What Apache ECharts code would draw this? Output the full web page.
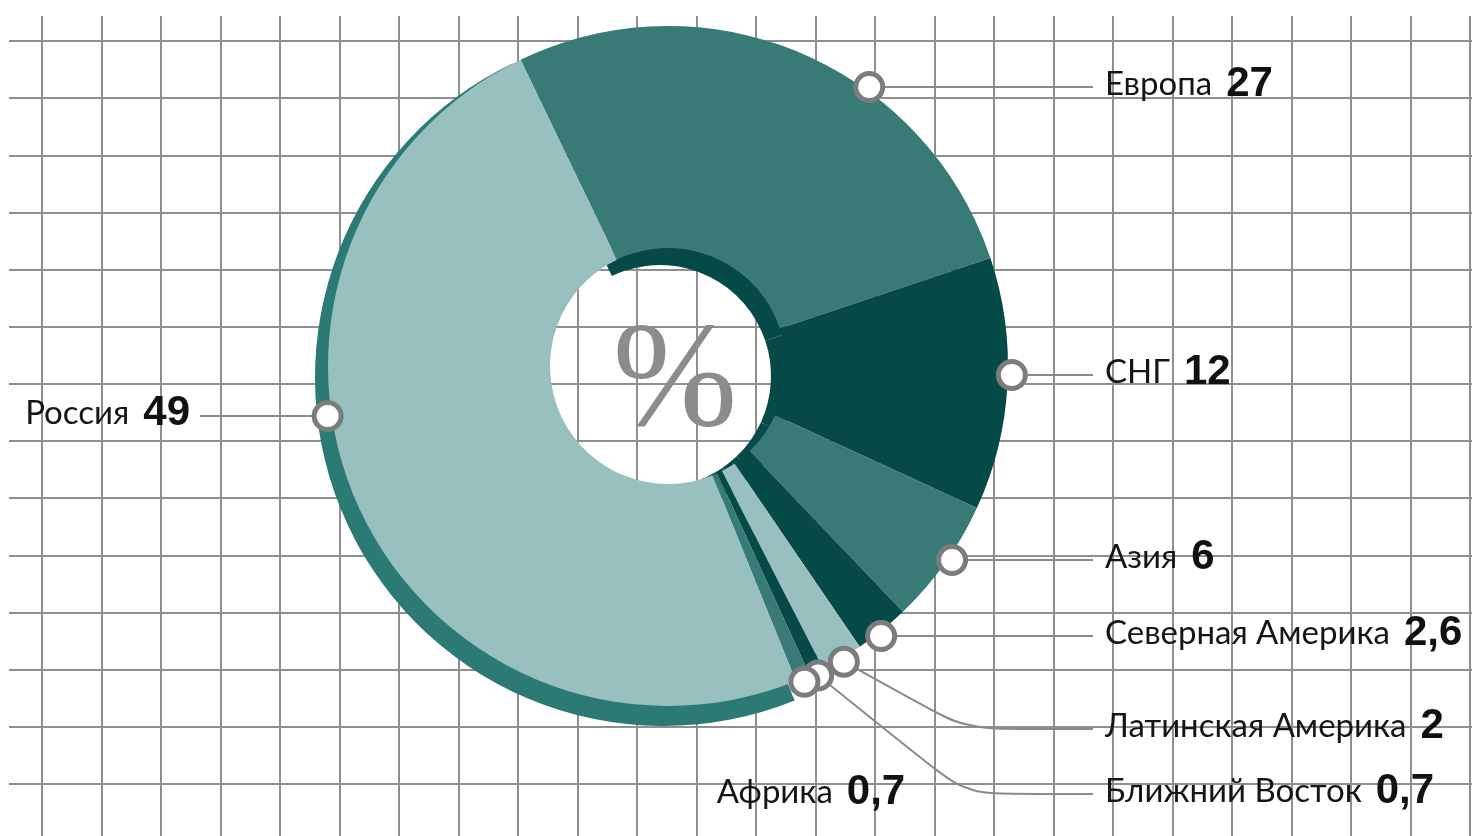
<!DOCTYPE html>
<html>
<head>
<meta charset="utf-8">
<title>Доли по регионам</title>
<script src="https://cdn.jsdelivr.net/npm/echarts@6/dist/echarts.min.js"></script>
<style>
  html, body { margin: 0; padding: 0; background: #fff; }
  #chart { width: 1472px; height: 836px; }
</style>
</head>
<body>
<div id="chart"></div>
<script>
// data
const regions = ['Европа', 'СНГ', 'Азия', 'Северная Америка', 'Латинская Америка', 'Ближний Восток', 'Африка', 'Россия']
const shares = [27, 12, 6, 2.6, 2, 0.7, 0.7, 49]
const centerText = '%'

// background paper: cells across / down
const gridCols = 24
const gridRows = 13

// colours
const light = '#98c0bf', mid = '#387a76', dark = '#064a48', rim = '#2b7a74'
const sliceColors = [mid, dark, mid, dark, light, dark, mid, light]
const lineGray = '#8a8a8a'
const clear = 'rgba(0,0,0,0)'

// geometry of the donut
const CX = 668, CY = 366, R_IN = 118, R_OUT = 340, MARK_R = 344
const START = 115.7 // echarts angle where Европа begins

// label placement: [x, line y, align]
const labelSpots = [
  [1105, 87, 'left'], [1105, 375, 'left'], [1105, 560, 'left'], [1105, 636, 'left'],
  [1105, 729, 'left'], [1105, 794, 'left'], [811, 795, 'center'], [190, 416, 'right']
]

// pick the narrowest installed sans for the names and size it to the printed width
const ctx = document.createElement('canvas').getContext('2d')
const probe = 'Северная Америка'
const measure = font => { ctx.font = font; return ctx.measureText(probe).width }
const baseW = measure('100px monospace')
let best = null
;['Liberation Sans Narrow', 'DejaVu Sans Condensed', 'Roboto', 'Lato'].forEach(f => {
  const w = measure(`100px '${f}', monospace`)
  if (Math.abs(w - baseW) > 0.5 && (!best || w < best.w)) best = { f, w }
})
const nameFont = best ? best.f : 'Roboto'
const nameSize = Math.round(283 / (best ? best.w : 874) * 100)

const total = shares.reduce((a, b) => a + b, 0)
const startDeg = 90 - START // clockwise from 12 o'clock

// marker sits where the horizontal leader meets the rim, else on the slice middle
let acc = 0
const markerVals = shares.map((v, i) => {
  const from = acc, to = acc + v
  acc = to
  const [, ly, align] = labelSpots[i]
  const dy = ly - CY
  if (Math.abs(dy) < MARK_R) {
    const dx = Math.sqrt(MARK_R * MARK_R - dy * dy) * (align === 'right' ? -1 : 1)
    let deg = Math.atan2(dx, -dy) * 180 / Math.PI - startDeg
    deg = ((deg % 360) + 360) % 360
    const val = deg / 360 * total
    if (val >= from && val <= to) return { val, straight: true }
  }
  return { val: (from + to) / 2, straight: false }
})

const markerPoint = val => {
  const t = (startDeg + val / total * 360) * Math.PI / 180
  return [CX + MARK_R * Math.sin(t), CY - MARK_R * Math.cos(t)]
}

const fmt = v => String(v).replace('.', ',')

const chart = echarts.init(document.getElementById('chart'))

chart.setOption({
  animation: false,
  title: {
    text: centerText,
    left: 670,
    top: 306,
    textAlign: 'center',
    textStyle: { fontFamily: 'Liberation Serif', fontSize: 150, fontWeight: 'normal', color: '#8c8c8c' }
  },
  grid: [
    { left: 42, top: 16, width: 59.5 * gridCols, bottom: 0 },
    { left: 9, right: 0, top: 41, height: 57.15 * gridRows }
  ],
  xAxis: [
    {
      gridIndex: 0, type: 'value', min: 0, max: gridCols, interval: 1,
      axisLine: { show: false }, axisTick: { show: false }, axisLabel: { show: false },
      splitLine: { show: true, lineStyle: { color: '#8f8f8f', width: 2 } }
    },
    { gridIndex: 1, type: 'value', show: false }
  ],
  yAxis: [
    { gridIndex: 0, type: 'value', show: false },
    {
      gridIndex: 1, type: 'value', min: 0, max: gridRows, interval: 1,
      axisLine: { show: false }, axisTick: { show: false }, axisLabel: { show: false },
      splitLine: { show: true, lineStyle: { color: '#8f8f8f', width: 2 } }
    }
  ],
  polar: { center: [CX, CY], radius: MARK_R },
  angleAxis: { type: 'value', min: 0, max: total, startAngle: START, clockwise: true, show: false },
  radiusAxis: { type: 'value', min: 0, max: 1, show: false },
  series: [
    {
      // outer wall under Россия
      type: 'pie',
      z: 1,
      silent: true,
      center: [663.5, 377.5],
      radius: [132, 348.5],
      startAngle: START,
      label: { show: false },
      labelLine: { show: false },
      data: regions.map((name, i) => ({
        name, value: shares[i],
        itemStyle: { color: name === 'Россия' ? rim : clear }
      }))
    },
    {
      // inner wall seen through the hole (far side only)
      type: 'pie',
      z: 1,
      silent: true,
      center: [660, 376],
      radius: [111, 136],
      startAngle: START,
      label: { show: false },
      labelLine: { show: false },
      data: regions.map((name, i) => ({
        name, value: shares[i],
        itemStyle: { color: name === 'Россия' ? clear : dark }
      }))
    },
    {
      type: 'pie',
      z: 2,
      center: [CX, CY],
      radius: [R_IN, R_OUT],
      startAngle: START,
      clockwise: true,
      avoidLabelOverlap: false,
      itemStyle: { borderWidth: 0 },
      label: {
        position: 'outside',
        formatter: p => `{n|${p.name}}{v|${fmt(p.value)}}`,
        rich: {
          n: { fontFamily: nameFont, fontSize: nameSize, color: '#151515', padding: [0, 14, 0, 0] },
          v: { fontFamily: 'Liberation Sans', fontWeight: 'bold', fontSize: 42, color: '#111' }
        }
      },
      labelLine: {
        show: true,
        smooth: 0.15,
        lineStyle: { color: lineGray, width: 2 }
      },
      labelLayout: params => {
        const i = params.dataIndex
        const [x, ly, align] = labelSpots[i]
        const out = { x, y: ly - 3, align, verticalAlign: 'middle' }
        if (regions[i] === 'Африка') return out
        const p0 = markerPoint(markerVals[i].val)
        const endX = align === 'right' ? x + 10 : x - 12
        if (markerVals[i].straight) {
          out.labelLinePoints = [p0, [(p0[0] + endX) / 2, ly], [endX, ly]]
        } else {
          out.labelLinePoints = [p0, [965, ly], [endX, ly]]
        }
        return out
      },
      emphasis: { disabled: true },
      data: regions.map((name, i) => ({
        name, value: shares[i],
        itemStyle: { color: sliceColors[i] },
        labelLine: { show: name !== 'Африка' }
      }))
    },
    {
      type: 'scatter',
      coordinateSystem: 'polar',
      z: 5,
      silent: true,
      symbol: 'circle',
      symbolSize: 27,
      itemStyle: { color: '#fff', borderColor: '#7c7c7c', borderWidth: 5, opacity: 1 },
      data: markerVals.map(m => [1, m.val])
    }
  ]
})
</script>
</body>
</html>
